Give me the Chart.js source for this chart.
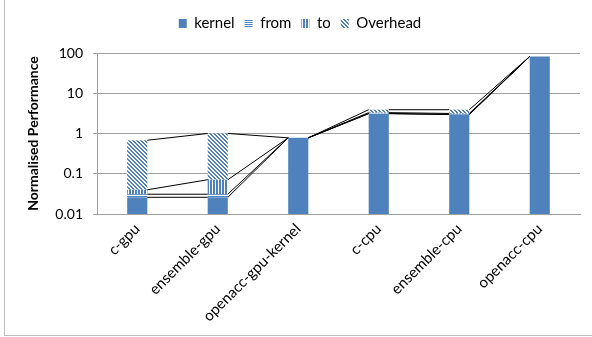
<!DOCTYPE html>
<html><head><meta charset="utf-8">
<script src="https://cdn.jsdelivr.net/npm/chart.js@4/dist/chart.umd.min.js"></script>
<style>
html,body{margin:0;padding:0;background:#fff;}
#wrap{position:relative;width:592px;height:337px;overflow:hidden;}
#frame{position:absolute;left:4px;top:-2px;width:600px;height:338px;border-left:1px solid #bdbdbd;border-bottom:1px solid #bdbdbd;box-sizing:border-box;}
canvas{position:absolute;left:0;top:0;}
</style></head><body>
<div id="wrap"><div id="frame"></div><canvas id="c" width="592" height="337"></canvas></div>
<script>
const categories = ['c-gpu','ensemble-gpu','openacc-gpu-kernel','c-cpu','ensemble-cpu','openacc-cpu'];
const seriesNames = ['kernel','from','to','Overhead'];
const kernel   = [0.026, 0.026, 0.78, 3.1, 2.95, 82];
const fromData = [0.005, 0.005, 0, 0.05, 0.05, 0];
const toData   = [0.009, 0.04, 0, 0.15, 0.15, 0];
const overhead = [0.64, 0.93, 0, 0.6, 0.75, 0];
const yTickValues = [0.01, 0.1, 1, 10, 100];
const yTickLabels = ['0.01','0.1','1','10','100'];
const yTitle = 'Normalised Performance';

const BLUE = '#4F81BD';
const canvas = document.getElementById('c');
const ctx = canvas.getContext('2d');
function makePattern(kind){
  const size = kind==='diag'?4:(kind==='v'?3:2);
  const c = document.createElement('canvas'); c.width=size; c.height=size;
  const g = c.getContext('2d'); g.fillStyle='#fff'; g.fillRect(0,0,size,size); g.fillStyle=BLUE;
  for (let x=0;x<size;x++) for (let y=0;y<size;y++){
    let on=false;
    if(kind==='diag') on = ((x-y+8)%4)<2;
    if(kind==='v') on = x<2;
    if(kind==='h') on = y===0;
    if(on) g.fillRect(x,y,1,1);
  }
  return ctx.createPattern(c,'repeat');
}
const fills = [BLUE, makePattern('h'), makePattern('v'), makePattern('diag')];
const values = [kernel, fromData, toData, overhead];

// Excel-style series lines joining the top of each stacked segment
const seriesLines = {
  id:'seriesLines',
  afterDatasetsDraw(chart){
    const g=chart.ctx, ys=chart.scales.y, bars=chart.getDatasetMeta(0).data;
    g.save(); g.strokeStyle='#000'; g.lineWidth=1;
    for(let d=0; d<values.length; d++){
      const top = i => { let s=0; for(let k=0;k<=d;k++) s+=values[k][i]; return ys.getPixelForValue(s); };
      for(let i=0;i<bars.length-1;i++){
        const a=bars[i], b=bars[i+1];
        g.beginPath(); g.moveTo(a.x+a.width/2, top(i)); g.lineTo(b.x-b.width/2, top(i+1)); g.stroke();
      }
    }
    g.restore();
  }
};
// extra space below the legend, and a small horizontal shift of the legend
const legendSpace = {
  id:'legendSpace',
  afterInit(chart){
    const L = chart.legend; if(!L) return;
    const orig = L.fit;
    L.fit = function(){ orig.call(this); this.height += 12; };
  },
  afterLayout(chart){
    const L = chart.legend; if(!L) return;
    L.left += 10; L.right += 10;
  }
};

const FONT = 'Lato';
new Chart(ctx, {
  type:'bar',
  data:{
    labels:categories,
    datasets: seriesNames.map((n,i)=>({label:n, data:values[i], backgroundColor:fills[i], borderWidth:0}))
  },
  options:{
    responsive:false, animation:false,
    layout:{padding:{left:0,right:12,top:6,bottom:0}},
    datasets:{bar:{barPercentage:0.5, categoryPercentage:0.5}},
    plugins:{
      legend:{position:'top', labels:{boxWidth:8, boxHeight:9, font:{family:FONT,size:15}, color:'#000', padding:10}},
      tooltip:{enabled:false}
    },
    scales:{
      x:{stacked:true, grid:{display:false, drawTicks:false}, border:{display:true,color:'#a0a0a0'},
         ticks:{minRotation:45,maxRotation:45,font:{family:FONT,size:15},color:'#000',padding:6},
         afterFit(s){ s.height=123; }},
      y:{type:'logarithmic', stacked:true, min:0.01, max:100,
         afterBuildTicks(s){ s.ticks = yTickValues.map(v=>({value:v})); },
         ticks:{callback:(v)=>yTickLabels[yTickValues.indexOf(v)], font:{family:FONT,size:14}, color:'#000', padding:10},
         grid:{color:'#a0a0a0', tickLength:4},
         border:{display:true,color:'#a0a0a0'},
         title:{display:true, text:yTitle, font:{family:FONT,size:14,weight:'bold'}, color:'#000', padding:{top:25,bottom:0}},
         afterFit(s){ s.width=97; }}
    }
  },
  plugins:[seriesLines, legendSpace]
});
</script>
</body></html>
